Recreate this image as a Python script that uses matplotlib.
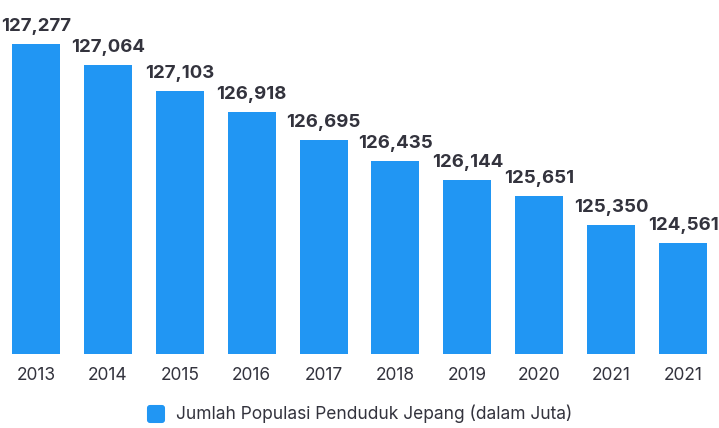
import matplotlib
matplotlib.use("Agg")
import matplotlib.pyplot as plt
from matplotlib.patches import FancyBboxPatch
from matplotlib.legend_handler import HandlerPatch

years = ["2013", "2014", "2015", "2016", "2017", "2018", "2019", "2020", "2021", "2021"]
value_labels = ["127,277", "127,064", "127,103", "126,918", "126,695",
                "126,435", "126,144", "125,651", "125,350", "124,561"]
# bar heights as drawn in the reference (relative units)
bar_heights = [310, 289, 263, 242, 214, 193, 174, 158, 129, 111]
series_name = "Jumlah Populasi Penduduk Jepang (dalam Juta)"

plt.rcParams['font.family'] = ['Inter', 'DejaVu Sans']

W, H = 719, 428
fig = plt.figure(figsize=(W / 100, H / 100), dpi=100)
base_px = 354
ax = fig.add_axes([0, (H - base_px) / H, 1, base_px / H])

bar_color = "#2196F3"
text_color = "#33333d"
x = list(range(len(years)))
bars = ax.bar(x, bar_heights, width=0.667, color=bar_color, label=series_name)

ax.set_xlim(-0.5, len(years) - 0.5)
ax.set_ylim(0, base_px)
for xi, h, lab in zip(x, bar_heights, value_labels):
    ax.text(xi, h + 13, lab, ha="center", va="baseline", fontsize=13.4,
            fontweight="bold", color=text_color)

ax.set_xticks(x)
ax.set_xticklabels(years, fontsize=12.5, color=text_color)
ax.tick_params(axis="x", length=0, pad=9)
ax.set_yticks([])
for s in ax.spines.values():
    s.set_visible(False)
ax.patch.set_alpha(0)


class RoundHandler(HandlerPatch):
    def create_artists(self, legend, orig_handle, xdescent, ydescent, width, height, fontsize, trans):
        size = 13.0  # points (~18 px)
        cy = -ydescent + height / 2
        p = FancyBboxPatch((-xdescent, cy - size / 2 - 0.5), size, size,
                           boxstyle="round,pad=0,rounding_size=2.2",
                           facecolor=bar_color, edgecolor="none", transform=trans)
        return [p]


leg = fig.legend(handles=[bars.patches[0]], labels=[series_name],
                 loc="center", bbox_to_anchor=(0.5, 1 - 414 / H),
                 frameon=False, fontsize=12.5, handlelength=1.04, handleheight=1.0,
                 handletextpad=0.62, handler_map={type(bars.patches[0]): RoundHandler()})
for t in leg.get_texts():
    t.set_color(text_color)

fig.savefig("out.png", dpi=100)
